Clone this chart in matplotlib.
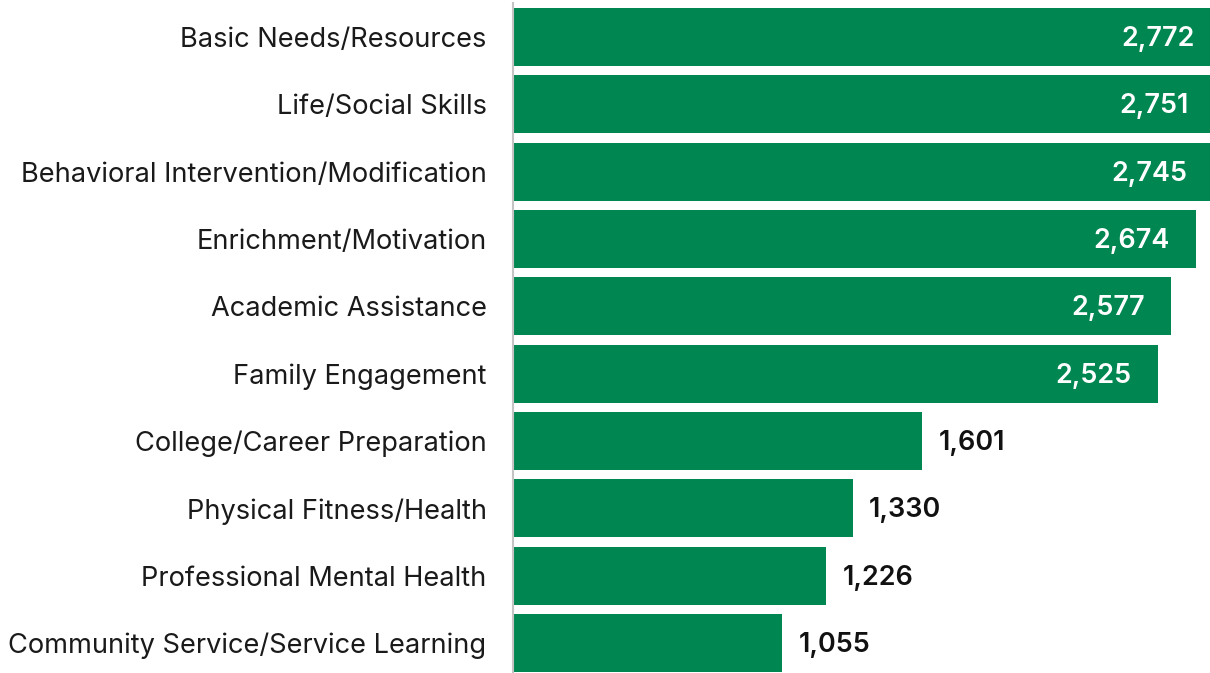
import matplotlib
matplotlib.use("Agg")
import matplotlib.pyplot as plt

plt.rcParams["font.family"] = ["Inter", "DejaVu Sans"]

categories = [
    "Basic Needs/Resources",
    "Life/Social Skills",
    "Behavioral Intervention/Modification",
    "Enrichment/Motivation",
    "Academic Assistance",
    "Family Engagement",
    "College/Career Preparation",
    "Physical Fitness/Health",
    "Professional Mental Health",
    "Community Service/Service Learning",
]
counts = [2772, 2751, 2745, 2674, 2577, 2525, 1601, 1330, 1226, 1055]

bar_color = "#008751"

fig = plt.figure(figsize=(12.1, 6.73), dpi=100)
# axes spans from x=513px to the right edge; bars at the top run past it
ax = fig.add_axes([513 / 1210, -3.7 / 673, 697 / 1210, 673.4 / 673])

y = list(range(len(categories)))
bars = ax.barh(y, counts, height=0.86, color=bar_color)
ax.set_xlim(0, 697 / 0.2553)
ax.set_ylim(len(categories) - 0.5, -0.5)

ax.set_yticks(y)
ax.set_yticklabels(categories, fontsize=19.6, color="#1a1a1a")
ax.tick_params(axis="y", length=0, pad=19)
ax.set_xticks([])

for side in ["top", "right", "bottom"]:
    ax.spines[side].set_visible(False)
ax.spines["left"].set_color("#c4c4c4")
ax.spines["left"].set_linewidth(1.5)

for yi, v in zip(y, counts):
    txt = f"{v:,}"
    if v > 2000:
        ax.annotate(txt, (v, yi), xytext=(-19, -1.5), textcoords="offset points",
                    ha="right", va="center", color="white",
                    fontsize=19.4, fontweight="semibold", annotation_clip=False)
    else:
        ax.annotate(txt, (v, yi), xytext=(12, -1.5), textcoords="offset points",
                    ha="left", va="center", color="#111111",
                    fontsize=19.4, fontweight="semibold")

fig.savefig("out.png", dpi=100)
